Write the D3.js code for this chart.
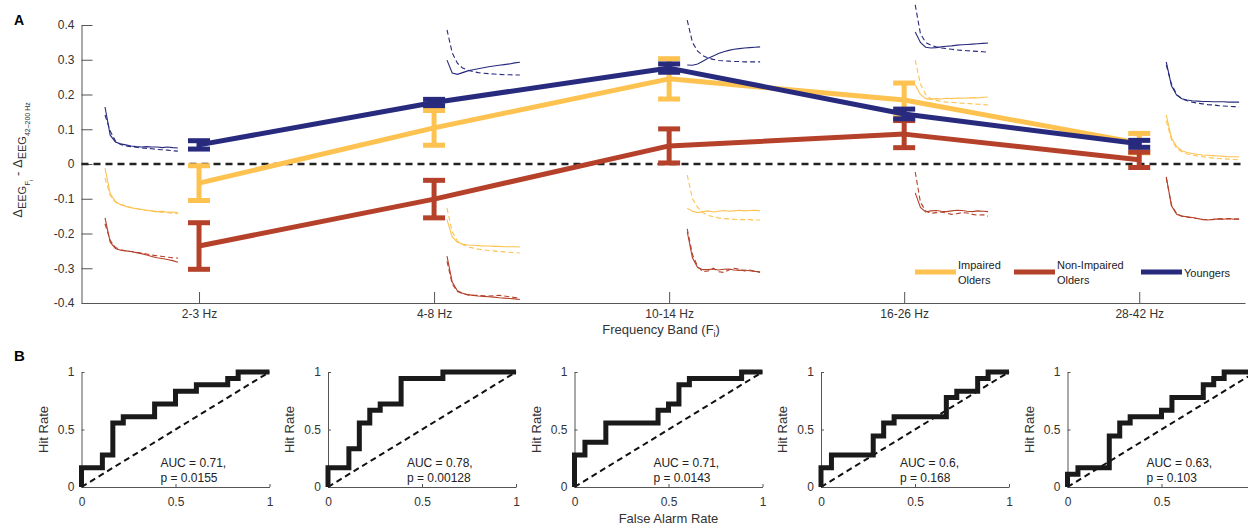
<!DOCTYPE html>
<html>
<head>
<meta charset="utf-8">
<script src="https://cdn.jsdelivr.net/npm/d3@7"></script>
<style>
body{margin:0;background:#fff;}
svg{display:block;font-family:"Liberation Sans",Arial,Helvetica,sans-serif;}
</style>
</head>
<body>
<div id="chart"></div>
<script>
// --- panel A data ---
var bands = ['2-3 Hz','4-8 Hz','10-14 Hz','16-26 Hz','28-42 Hz'];
var yTicks = [-0.4,-0.3,-0.2,-0.1,0,0.1,0.2,0.3,0.4];

var impairedMean    = [-0.055, 0.104, 0.245, 0.184, 0.060];
var impairedErr     = [0.050, 0.050, 0.058, 0.049, 0.028];
var nonImpairedMean = [-0.236, -0.101, 0.052, 0.086, 0.012];
var nonImpairedErr  = [0.067, 0.054, 0.049, 0.039, 0.022];
var youngersMean    = [0.055, 0.177, 0.276, 0.144, 0.058];
var youngersErr     = [0.012, 0.009, 0.012, 0.014, 0.010];

// small spectra drawn next to each band (values in panel A units)
var youngersSpecSolid = [
  [0.164,0.083,0.063,0.058,0.055,0.052,0.050,0.049,0.050,0.049,0.049,0.047,0.049,0.047,0.046],
  [0.299,0.262,0.258,0.263,0.268,0.271,0.274,0.277,0.280,0.282,0.284,0.286,0.288,0.291,0.293],
  [0.285,0.284,0.288,0.296,0.304,0.311,0.318,0.323,0.327,0.330,0.332,0.334,0.335,0.336,0.337],
  [0.380,0.350,0.336,0.334,0.335,0.337,0.339,0.340,0.342,0.343,0.344,0.345,0.346,0.347,0.348],
  [0.294,0.225,0.198,0.188,0.184,0.182,0.181,0.180,0.180,0.179,0.179,0.179,0.178,0.178,0.178]
];
var youngersSpecDashed = [
  [0.141,0.095,0.066,0.056,0.052,0.050,0.048,0.046,0.045,0.044,0.042,0.041,0.040,0.038,0.037],
  [0.386,0.320,0.290,0.276,0.270,0.266,0.263,0.261,0.260,0.259,0.258,0.257,0.257,0.256,0.256],
  [0.414,0.350,0.325,0.312,0.305,0.301,0.298,0.297,0.296,0.295,0.295,0.294,0.294,0.294,0.294],
  [0.458,0.375,0.350,0.342,0.337,0.334,0.332,0.330,0.328,0.327,0.326,0.325,0.324,0.323,0.322],
  [0.285,0.230,0.200,0.188,0.182,0.178,0.175,0.173,0.171,0.170,0.168,0.167,0.166,0.165,0.164]
];
var impairedSpecSolid = [
  [-0.012,-0.085,-0.108,-0.117,-0.122,-0.126,-0.129,-0.131,-0.133,-0.135,-0.137,-0.136,-0.139,-0.138,-0.140],
  [-0.160,-0.210,-0.225,-0.230,-0.233,-0.234,-0.235,-0.236,-0.236,-0.237,-0.237,-0.238,-0.238,-0.238,-0.239],
  [-0.127,-0.136,-0.140,-0.137,-0.135,-0.138,-0.136,-0.134,-0.136,-0.135,-0.133,-0.135,-0.134,-0.133,-0.135],
  [0.227,0.200,0.188,0.186,0.188,0.187,0.189,0.188,0.190,0.189,0.190,0.191,0.190,0.192,0.193],
  [0.141,0.075,0.050,0.038,0.033,0.030,0.028,0.026,0.025,0.024,0.023,0.022,0.021,0.021,0.020]
];
var impairedSpecDashed = [
  [-0.040,-0.090,-0.110,-0.116,-0.121,-0.125,-0.128,-0.131,-0.134,-0.136,-0.138,-0.139,-0.140,-0.142,-0.143],
  [-0.127,-0.195,-0.222,-0.232,-0.238,-0.242,-0.245,-0.247,-0.249,-0.250,-0.252,-0.253,-0.254,-0.255,-0.256],
  [-0.032,-0.100,-0.125,-0.140,-0.148,-0.152,-0.155,-0.157,-0.158,-0.159,-0.160,-0.160,-0.160,-0.161,-0.161],
  [0.299,0.230,0.200,0.188,0.183,0.180,0.178,0.177,0.176,0.175,0.174,0.173,0.172,0.171,0.170],
  [0.125,0.070,0.045,0.035,0.029,0.026,0.023,0.021,0.019,0.017,0.016,0.015,0.014,0.013,0.012]
];
var nonImpairedSpecSolid = [
  [-0.155,-0.225,-0.243,-0.248,-0.250,-0.252,-0.255,-0.258,-0.262,-0.266,-0.270,-0.272,-0.275,-0.278,-0.283],
  [-0.265,-0.340,-0.365,-0.372,-0.376,-0.378,-0.380,-0.381,-0.382,-0.383,-0.385,-0.386,-0.387,-0.388,-0.390],
  [-0.195,-0.270,-0.298,-0.304,-0.304,-0.302,-0.305,-0.303,-0.302,-0.305,-0.306,-0.305,-0.307,-0.309,-0.310],
  [-0.083,-0.125,-0.138,-0.135,-0.134,-0.136,-0.137,-0.135,-0.133,-0.134,-0.136,-0.137,-0.135,-0.136,-0.137],
  [-0.037,-0.120,-0.145,-0.150,-0.152,-0.154,-0.157,-0.160,-0.161,-0.159,-0.158,-0.159,-0.157,-0.159,-0.158]
];
var nonImpairedSpecDashed = [
  [-0.172,-0.220,-0.240,-0.247,-0.250,-0.252,-0.254,-0.256,-0.259,-0.262,-0.264,-0.266,-0.268,-0.270,-0.271],
  [-0.280,-0.345,-0.367,-0.373,-0.377,-0.378,-0.378,-0.379,-0.380,-0.379,-0.378,-0.380,-0.382,-0.384,-0.386],
  [-0.187,-0.260,-0.295,-0.310,-0.308,-0.300,-0.310,-0.312,-0.305,-0.300,-0.303,-0.308,-0.305,-0.309,-0.312],
  [-0.023,-0.110,-0.135,-0.142,-0.140,-0.138,-0.141,-0.145,-0.143,-0.140,-0.141,-0.145,-0.147,-0.146,-0.150],
  [-0.040,-0.118,-0.143,-0.150,-0.153,-0.155,-0.157,-0.159,-0.160,-0.160,-0.158,-0.158,-0.158,-0.158,-0.159]
];

// --- panel B data: ROC corners, counts out of nCases ---
var nCases = 18;
var rocFpr = [
  [0,2,3,4,7,9,11,14,15,18],
  [0,2,3,4,5,7,11,18],
  [0,1,3,8,9,10,11,16,18],
  [0,1,5,6,7,12,13,15,16,18],
  [0,1,4,5,6,9,10,13,14,15,18]
];
var rocTpr = [
  [0,3,5,10,11,13,15,16,17,18],
  [0,3,6,10,12,13,17,18],
  [0,5,7,10,12,13,16,17,18],
  [0,3,5,8,10,11,14,15,17,18],
  [0,2,3,8,10,11,12,14,16,17,18]
];
var aucLabels = ['AUC = 0.71,','AUC = 0.78,','AUC = 0.71,','AUC = 0.6,','AUC = 0.63,'];
var pLabels = ['p = 0.0155','p = 0.00128','p = 0.0143','p = 0.168','p = 0.103'];
var rocTicks = [0, 0.5, 1];

var YELLOW = '#fdc24f', RED = '#b5412a', NAVY = '#282a7e';
var AXIS = '#555', TXT = '#333';

var svg = d3.select('#chart').append('svg').attr('width',1248).attr('height',525);

function styleAxis(g, fs){
    g.select('.domain').attr('stroke',AXIS);
    g.selectAll('.tick line').attr('stroke',AXIS);
    g.selectAll('.tick text').attr('fill',TXT).style('font-size',fs+'px').style('font-family','inherit');
}

// ================= panel A =================
var x = d3.scaleLinear().domain([0.5,5.45]).range([81.5,1245]);
var y = d3.scaleLinear().domain([-0.4,0.4]).range([303,25]);

var gA = svg.append('g');

gA.append('g').attr('transform','translate(81.5,0)')
  .call(d3.axisLeft(y).tickValues(yTicks).tickSize(-11).tickSizeOuter(0).tickPadding(7)
      .tickFormat(function(d){ return d===0?'0':d.toFixed(1); }))
  .call(styleAxis,12);

gA.append('g').attr('transform','translate(0,303)')
  .call(d3.axisBottom(x).tickValues([1,2,3,4,5]).tickSize(-11).tickSizeOuter(0).tickPadding(6)
      .tickFormat(function(d,i){ return bands[i]; }))
  .call(styleAxis,12);

// zero reference
gA.append('line')
  .attr('x1',x(0.5)).attr('x2',x(5.45)).attr('y1',y(0)).attr('y2',y(0))
  .attr('stroke','#222').attr('stroke-width',2.5).attr('stroke-dasharray','7,5');

// inset spectra
var insetX = [0.60, 2.055, 3.077, 4.047, 5.115], insetSpan = 0.31;
function drawSpectra(list, color, dashed){
    list.forEach(function(vals,i){
        var xi = d3.scaleLinear().domain([0,vals.length-1]).range([insetX[i],insetX[i]+insetSpan]);
        gA.append('path').datum(vals)
          .attr('d', d3.line().x(function(d,j){ return x(xi(j)); }).y(function(d){ return y(d); }))
          .attr('fill','none').attr('stroke',color).attr('stroke-width',1.1)
          .attr('stroke-dasharray', dashed ? '5,3' : null);
    });
}
drawSpectra(youngersSpecSolid, NAVY, false);
drawSpectra(youngersSpecDashed, NAVY, true);
drawSpectra(impairedSpecSolid, YELLOW, false);
drawSpectra(impairedSpecDashed, YELLOW, true);
drawSpectra(nonImpairedSpecSolid, RED, false);
drawSpectra(nonImpairedSpecDashed, RED, true);

// group lines + error bars
var series = [
    {mean:impairedMean, err:impairedErr, color:YELLOW},
    {mean:nonImpairedMean, err:nonImpairedErr, color:RED},
    {mean:youngersMean, err:youngersErr, color:NAVY}
];
var cap = 11;
series.forEach(function(s){
    var g = gA.append('g').attr('stroke',s.color).attr('stroke-width',5).attr('fill','none');
    g.append('path').datum(s.mean)
      .attr('d', d3.line().x(function(d,i){ return x(i+1); }).y(function(d){ return y(d); }))
      .attr('stroke-linejoin','round');
    s.mean.forEach(function(m,i){
        var cx = x(i+1), lo = y(m - s.err[i]), hi = y(m + s.err[i]);
        g.append('line').attr('x1',cx).attr('x2',cx).attr('y1',lo).attr('y2',hi);
        g.append('line').attr('x1',cx-cap).attr('x2',cx+cap).attr('y1',lo).attr('y2',lo);
        g.append('line').attr('x1',cx-cap).attr('x2',cx+cap).attr('y1',hi).attr('y2',hi);
    });
});

// legend
var legend = [
    {color:YELLOW, lines:['Impaired','Olders'], x0:915},
    {color:RED, lines:['Non-Impaired','Olders'], x0:1014},
    {color:NAVY, lines:['Youngers'], x0:1141}
];
legend.forEach(function(l){
    gA.append('line').attr('x1',l.x0).attr('x2',l.x0+41).attr('y1',272).attr('y2',272)
      .attr('stroke',l.color).attr('stroke-width',5);
    var t = gA.append('text').attr('x',l.x0+43).attr('y', l.lines.length>1 ? 269 : 277)
      .attr('fill','#222').style('font-size','11px');
    l.lines.forEach(function(s,k){
        t.append('tspan').attr('x',l.x0+43).attr('dy',k===0?0:15).text(s);
    });
});

// axis titles
gA.append('text').attr('x',x(3)-8).attr('y',334).attr('text-anchor','middle')
  .attr('fill',TXT).style('font-size','13px')
  .call(function(t){
      t.append('tspan').text('Frequency Band (F');
      t.append('tspan').attr('dy',3).style('font-size','9px').text('i');
      t.append('tspan').attr('dy',-3).text(')');
  });

var yl = gA.append('text').attr('transform','translate(22,160) rotate(-90)')
  .attr('text-anchor','middle').attr('fill',TXT).style('font-size','13px');
yl.append('tspan').text('\u0394');
yl.append('tspan').attr('dy',4).style('font-size','11px').text('EEG');
yl.append('tspan').attr('dy',4).style('font-size','8px').text('F');
yl.append('tspan').attr('dy',3).style('font-size','6px').text('i');
yl.append('tspan').attr('dy',-11).text(' - \u0394');
yl.append('tspan').attr('dy',4).style('font-size','11px').text('EEG');
yl.append('tspan').attr('dy',4).style('font-size','7px').text('42\u2013200 Hz');

svg.append('text').attr('x',14).attr('y',25).style('font-size','14px').style('font-weight','bold').text('A');

// ================= panel B =================
svg.append('text').attr('x',14).attr('y',361).style('font-size','15px').style('font-weight','bold').text('B');

var rocW = 188, rocLeft0 = 81.5, rocStep = 246.5;
var ry = d3.scaleLinear().domain([0,1]).range([487,372]);

rocFpr.forEach(function(fpr,p){
    var left = rocLeft0 + p*rocStep;
    var rx = d3.scaleLinear().domain([0,1]).range([left,left+rocW]);
    var g = svg.append('g');
    // last panel runs off the page edge, so its "1" label is not shown
    var xLabelTicks = p === rocFpr.length-1 ? [0,0.5] : rocTicks;

    g.append('g').attr('transform','translate('+left+',0)')
      .call(d3.axisLeft(ry).tickValues(rocTicks).tickSize(-3).tickSizeOuter(0).tickPadding(7)
          .tickFormat(function(d){ return d===0.5?'0.5':String(d); }))
      .call(styleAxis,12);
    g.append('g').attr('transform','translate(0,487)')
      .call(d3.axisBottom(rx).tickValues(xLabelTicks).tickSize(-3).tickSizeOuter(0).tickPadding(10)
          .tickFormat(function(d){ return d===0.5?'0.5':String(d); }))
      .call(styleAxis,12);
    if(p === rocFpr.length-1){
        g.append('line').attr('x1',rx(0.5)).attr('x2',rx(1)).attr('y1',487.5).attr('y2',487.5).attr('stroke',AXIS);
    }

    // chance diagonal
    g.append('line').attr('x1',rx(0)).attr('y1',ry(0)).attr('x2',rx(1)).attr('y2',ry(1))
      .attr('stroke','#111').attr('stroke-width',2).attr('stroke-dasharray','6,4');

    var pts = fpr.map(function(f,i){ return [f/nCases, rocTpr[p][i]/nCases]; });
    g.append('path').datum(pts)
      .attr('d', d3.line().curve(d3.curveStepBefore).x(function(d){ return rx(d[0]); }).y(function(d){ return ry(d[1]); }))
      .attr('fill','none').attr('stroke','#1a1a1a').attr('stroke-width',5).attr('stroke-linejoin','miter');

    g.append('text').attr('x',rx(0.42)).attr('y',ry(0.17)).attr('fill','#222').style('font-size','12px').text(aucLabels[p]);
    g.append('text').attr('x',rx(0.42)).attr('y',ry(0.04)).attr('fill','#222').style('font-size','12px').text(pLabels[p]);

    g.append('text').attr('transform','translate('+(left-34)+','+ry(0.5)+') rotate(-90)')
      .attr('text-anchor','middle').attr('fill',TXT).style('font-size','13px').text('Hit Rate');
});

svg.append('text').attr('x',rocLeft0+2*rocStep+rocW/2).attr('y',523).attr('text-anchor','middle')
  .attr('fill',TXT).style('font-size','13px').text('False Alarm Rate');
</script>
</body>
</html>
